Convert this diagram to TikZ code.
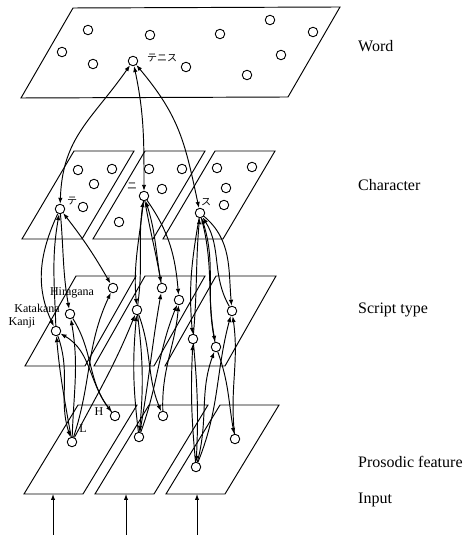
\documentclass[tikz,border=0pt]{standalone}
\usepackage{fontspec}
\setmainfont{Liberation Serif}
\newfontfamily\jpfont{Noto Sans CJK JP}
\usetikzlibrary{arrows.meta,backgrounds}
\tikzset{
  unit/.style={circle, draw, fill=white, minimum size=9.5pt, inner sep=0pt, line width=0.9pt},
  plane/.style={draw, line width=0.95pt},
  link/.style={line width=0.95pt, -{Latex[length=6pt,width=4.4pt]}},
  blink/.style={line width=0.95pt, {Latex[length=6pt,width=4.4pt]}-{Latex[length=6pt,width=4.4pt]}},
  layerlabel/.style={anchor=west, font=\fontsize{16}{19}\selectfont, inner sep=0pt},
  smalltext/.style={font=\fontsize{12}{14}\selectfont, inner sep=0pt},
  jptext/.style={font=\jpfont\fontsize{10}{12}\selectfont, inner sep=0pt}
}
\begin{document}
\begin{tikzpicture}[x=1pt,y=1pt]
\useasboundingbox (0,0) rectangle (465,535);

% ---------- units ----------
% word layer
\node[unit] (w1) at (88,505) {};
\node[unit] (w2) at (62,483) {};
\node[unit] (w3) at (93,471) {};
\node[unit] (w4) at (150,500) {};
\node[unit] (wT) at (133,474) {};
\node[unit] (w5) at (186,468) {};
\node[unit] (w6) at (220,501) {};
\node[unit] (w7) at (247,460) {};
\node[unit] (w8) at (270,515) {};
\node[unit] (w9) at (281,480) {};
\node[unit] (w10) at (313,503) {};
% character layer
\node[unit] (a1) at (78,365) {};
\node[unit] (a2) at (112,366) {};
\node[unit] (a3) at (94,351) {};
\node[unit] (a4) at (83,328) {};
\node[unit] (c1) at (60,326) {};
\node[unit] (b1) at (149,366) {};
\node[unit] (b2) at (182,366) {};
\node[unit] (b3) at (162,346) {};
\node[unit] (b4) at (119,313) {};
\node[unit] (c2) at (144,339) {};
\node[unit] (d1) at (217,367) {};
\node[unit] (d2) at (252,368) {};
\node[unit] (d3) at (226,347) {};
\node[unit] (d4) at (224,330) {};
\node[unit] (c3) at (200,322) {};
% script type layer
\node[unit] (h1) at (113,247) {};
\node[unit] (k1) at (70,221) {};
\node[unit] (j1) at (56,204) {};
\node[unit] (s2a) at (162,247) {};
\node[unit] (s2b) at (179,235) {};
\node[unit] (s2c) at (137,225) {};
\node[unit] (s3a) at (232,224) {};
\node[unit] (s3b) at (193,196) {};
\node[unit] (s3c) at (216,188) {};
% prosodic layer
\node[unit] (pL) at (72,93) {};
\node[unit] (pH) at (115,119) {};
\node[unit] (p2a) at (163,119) {};
\node[unit] (p2b) at (139,98) {};
\node[unit] (p3a) at (235,96) {};
\node[unit] (p3b) at (196,68) {};

% input arrow ends
\coordinate (in1) at (53,41);
\coordinate (in2) at (126,41);
\coordinate (in3) at (197,41);
\coordinate (src1) at (53,0);
\coordinate (src2) at (126,0);
\coordinate (src3) at (197,0);

% ---------- texts ----------
\node[jptext] (tTenisu) at (162,477) {テニス};
\node[jptext] (tTe) at (72,334) {テ};
\node[jptext] (tNi) at (132,349) {ニ};
\node[jptext] (tSu) at (206,333) {ス};
\node[smalltext] (tHira) at (72,242) {Hiragana};
\node[smalltext] (tKata) at (37,227) {Katakana};
\node[smalltext] (tKanji) at (22,212) {Kanji};
\node[smalltext] (tL) at (83,106) {L};
\node[smalltext] (tH) at (99,123) {H};

\node[layerlabel] (lw) at (358,489) {Word};
\node[layerlabel] (lc) at (358,350) {Character};
\node[layerlabel] (ls) at (358,225) {Script type};
\node[layerlabel] (lp) at (358,73) {Prosodic feature};
\node[layerlabel] (li) at (358,35) {Input};

\begin{pgfonlayer}{background}
% ---------- planes ----------
\draw[plane] (21,437) -- (288,438) -- (340,528) -- (73,527) -- cycle;
\foreach \bx in {22,93,163}{
  \draw[plane] (\bx,296) -- (\bx+60,296) -- (\bx+112,384) -- (\bx+52,384) -- cycle;
}
\foreach \bx in {25,94,165}{
  \draw[plane] (\bx,169) -- (\bx+60,169) -- (\bx+111,259) -- (\bx+51,259) -- cycle;
}
\foreach \bx in {24,95,166}{
  \draw[plane] (\bx,41) -- (\bx+59,41) -- (\bx+113,130) -- (\bx+54,130) -- cycle;
}

% ---------- word <-> character ----------
\draw[blink] (c1) to[out=88, in=235, looseness=1.1] (wT);
\draw[blink] (c2) to[out=90, in=-78] (wT);
\draw[blink] (c3) to[out=102, in=-50, looseness=1.1] (wT);

% ---------- character <-> script ----------
\draw[blink] (c1) to[bend left=4] (h1);
\draw[link] (c1) to[out=245, in=115] (j1);
\draw[link] (c1) to[out=-85, in=100] (k1);
\draw[link] (j1) to[out=92, in=-100] (c1);

\draw[link] (c2) to[out=-96, in=95] (s2c);
\draw[link] (c2) to[out=-80, in=100] (s2a);
\draw[link] (c2) to[out=-55, in=95] (s2b);
\draw[link] (s2c) to[out=82, in=-98] (c2);
\draw[link] (s2a) to[out=100, in=-72] (c2);

\draw[link] (c3) to[out=-40, in=95] (s3a);
\draw[link] (c3) to[out=-100, in=95] (s3b);
\draw[link] (c3) to[out=-75, in=100] (s3c);
\draw[link] (s3b) to[out=85, in=-95] (c3);
\draw[link] (s3c) to[out=102, in=-72] (c3);
\draw[link] (s3a) to[out=120, in=-58] (c3);

% ---------- script <-> prosodic ----------
\draw[link] (pL) to[out=100, in=-85] (j1);
\draw[link] (pL) to[out=88, in=-80] (k1);
\draw[link] (pL) to[out=72, in=-115] (h1);
\draw[link] (pL) to[out=62, in=-112] (s2c);
\draw[link] (pH) to[out=130, in=-30] (j1);
\draw[link] (j1) to[out=-70, in=108] (pL);
\draw[link] (k1) to[out=-58, in=128] (pH);

\draw[link] (s2c) to[bend left=6] (p2b);
\draw[link] (p2b) to[bend left=6] (s2c);
\draw[link] (s2c) to[out=-70, in=112] (p2a);
\draw[link] (p2b) to[out=80, in=-100] (s2a);
\draw[link] (p2b) to[out=70, in=-112] (s2b);
\draw[link] (p2a) to[out=92, in=-95] (s2b);

\draw[link] (s3b) to[bend left=4] (p3b);
\draw[link] (p3b) to[bend left=4] (s3b);
\draw[link] (p3b) to[out=75, in=-110] (s3c);
\draw[link] (p3b) to[out=68, in=-105] (s3a);
\draw[link] (s3c) to[out=-70, in=100] (p3a);
\draw[link] (p3a) to[out=96, in=-82] (s3a);

% ---------- input ----------
\draw[link] (src1) -- (in1);
\draw[link] (src2) -- (in2);
\draw[link] (src3) -- (in3);
\end{pgfonlayer}
\end{tikzpicture}
\end{document}
